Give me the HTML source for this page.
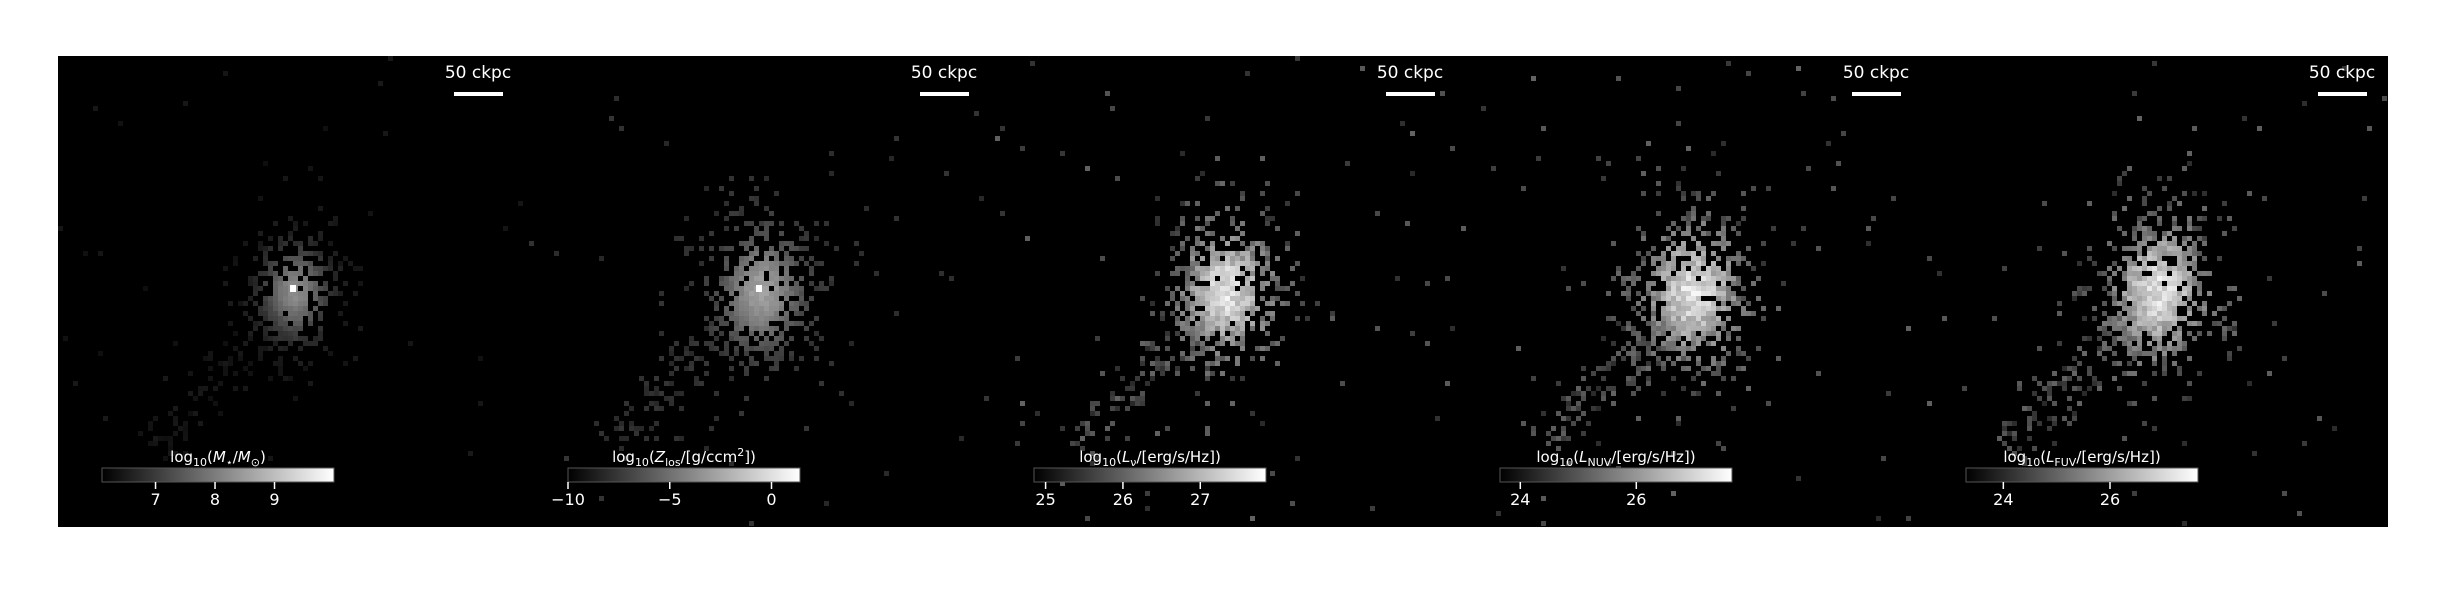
<!DOCTYPE html>
<html><head><meta charset="utf-8"><style>
html,body{margin:0;padding:0;background:#fff;}
body{width:2444px;height:584px;overflow:hidden;font-family:"Liberation Sans","DejaVu Sans",sans-serif;}
svg text{font-family:"DejaVu Sans","Liberation Sans",sans-serif;fill:#fff;}
</style></head><body>
<svg id="fig" width="2444" height="584" xmlns="http://www.w3.org/2000/svg">
<rect x="0" y="0" width="2444" height="584" fill="#fff"/>
</svg>
<script>
const panelLabels = ["log\u2081\u2080(M\u2605/M\u2299)", "log\u2081\u2080(Z_los/[g/ccm\u00b2])", "log\u2081\u2080(L\u03bd/[erg/s/Hz])", "log\u2081\u2080(L_NUV/[erg/s/Hz])", "log\u2081\u2080(L_FUV/[erg/s/Hz])"];
const tickLabels = [["7","8","9"],["\u221210","\u22125","0"],["25","26","27"],["24","26"],["24","26"]];
const tickValues = [[7,8,9],[-10,-5,0],[25,26,27],[24,26],[24,26]];
const cbRange = [[6.1,10.0],[-10,1.4],[24.85,27.85],[23.65,27.65],[23.3,27.65]];
const brightness = [0.55,0.75,0.92,0.92,0.92];
const spread = [0.95,1.1,1.15,1.2,1.2];

const NS="http://www.w3.org/2000/svg";
const svg=document.getElementById('fig');
function mk(t,a,p){const e=document.createElementNS(NS,t);for(const k in a)e.setAttribute(k,a[k]);(p||svg).appendChild(e);return e;}
function hash(i,j,k){let h=(i*374761393+j*668265263+k*2147483647)|0;h=(h^(h>>>13))*1274126177|0;h=h^(h>>>16);return ((h>>>0)%10000)/10000;}

const X0=58,Y0=56,PW=466,PH=471,CELL=5;
for(let p=0;p<5;p++){
  const px=X0+p*PW;
  const g=mk('g',{});
  
  
  const bg=mk('rect',{x:px,y:Y0,width:PW,height:PH,fill:'#000'},g);
  
  
  const cx=px+235, cy=289, s=spread[p], b=brightness[p];
  const img=mk('g',{},g);
  
  
  for(let x=px;x<px+PW-2;x+=CELL){
    for(let y=Y0;y<Y0+PH-2;y+=CELL){
      const dx=(x-cx)/(40*s), dy=(y-cy)/(55*s);
      const r2=dx*dx+dy*dy;
      let dens=0.85*Math.exp(-r2*0.9);
      const ux=(x-cx), uy=(y-cy);
      const L=Math.hypot(145,150); const t=(-ux*145+uy*150)/(L*L);
      if(t>0&&t<1.05){const perp=Math.abs(ux*150+uy*145)/L; dens+=0.3*Math.exp(-perp*perp/(2*(14*s)*(14*s)));}
      dens+=(p<2?0.004:0.008);
      const h=hash(x,y,p);
      if(h<dens*(0.6+0.4*s)){
        let v;
        if(p<2){v=(p===0?0.1:0.2)+(p===0?0.85:0.6)*Math.exp(-r2*(p===0?1.6:1.4))+0.08*hash(y,x,p+3);}
        else {v=0.3+0.65*Math.exp(-r2*1.3)+0.25*(hash(y,x,p+7)-0.5);}
        v=Math.max(0,Math.min(1,v*b));
        const c=Math.round(v*255);
        mk('rect',{x:x,y:y,width:CELL,height:CELL,fill:`rgb(${c},${c},${c})`},img);
      }
    }
  }
  if(p<2){mk('rect',{x:cx-3,y:cy-4,width:6,height:7,fill:'#fff'},img);}
  const sb=mk('rect',{x:px+396,y:92,width:49,height:4,fill:'#fff'},g);
  
  
  const st=mk('text',{x:px+420,y:78,'font-size':17,'text-anchor':'middle'},g);
  st.textContent='50 ckpc';
  
  
  const gid='cbg'+p;
  const grad=mk('linearGradient',{id:gid,x1:0,x2:1,y1:0,y2:0},mk('defs',{},g));
  mk('stop',{offset:0,'stop-color':'#000'},grad);mk('stop',{offset:1,'stop-color':'#fff'},grad);
  const cbx=px+44, cbw=232, cby=468, cbh=14;
  const cb=mk('rect',{x:cbx,y:cby,width:cbw,height:cbh,fill:`url(#${gid})`,stroke:'#555','stroke-width':1},g);
  
  
  const [lo,hi]=cbRange[p];
  const sx=v=>cbx+(v-lo)/(hi-lo)*cbw;
  tickValues[p].forEach((v,i)=>{
    const tx=sx(v);
    mk('line',{x1:tx,x2:tx,y1:cby+cbh,y2:cby+cbh+7,stroke:'#fff','stroke-width':1.5},g);
    const tl=mk('text',{x:tx,y:505,'font-size':16,'text-anchor':'middle'},g);
    tl.textContent=tickLabels[p][i];
    
    
  });
  const lab=mk('text',{x:cbx+116,y:462,'font-size':15,'text-anchor':'middle'},g);
  
  
  const main=[["log",""],["10","sub"],["(",""]];
  const rest={0:[["M","i"],["\u22c6","sub"],["/",""],["M","i"],["\u2299","sub"],[")",""]],
    1:[["Z","i"],["los","sub"],["/[g/ccm",""],["2","sup"],["])",""]],
    2:[["L","i"],["\u03bd","sub"],["/[erg/s/Hz])",""]],
    3:[["L","i"],["NUV","sub"],["/[erg/s/Hz])",""]],
    4:[["L","i"],["FUV","sub"],["/[erg/s/Hz])",""]]}[p];
  main.concat(rest).forEach(([t,k])=>{
    const ts=mk('tspan',{},lab);ts.textContent=t;
    if(k==='sub'){ts.setAttribute('font-size',11);ts.setAttribute('dy',4);}
    else if(k==='sup'){ts.setAttribute('font-size',11);ts.setAttribute('dy',-6);}
    else if(k==='i'){ts.setAttribute('font-style','italic');}
    if(k==='sub'||k==='sup'){const back=mk('tspan',{dy:k==='sub'?-4:6,'font-size':15},lab);back.textContent='\u200b';}
  });
}
</script>
</body></html>
